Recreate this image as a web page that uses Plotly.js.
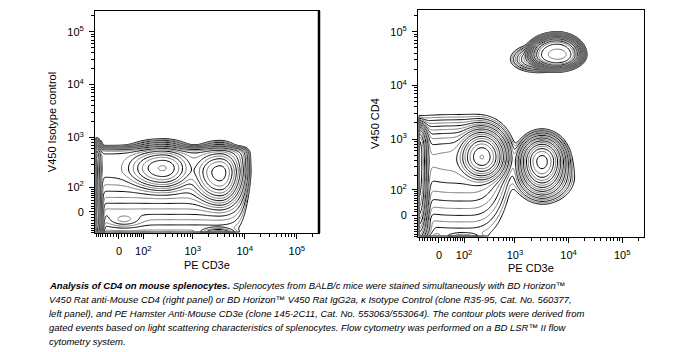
<!DOCTYPE html>
<html><head><meta charset="utf-8">
<script src="https://cdn.plot.ly/plotly-3.0.1.min.js"></script>
<style>html,body{margin:0;padding:0;background:#fff}#chart{width:688px;height:352px}</style>
</head><body><div id="chart"></div>
<script>
// ---- display transform (biexponential-like arcsinh scale) ----
const COFACTOR = 77;
// ---- tick labels ----
const majorTickValues = [0, 100, 1000, 10000, 100000];
const majorTickLabels = ['0', '10<sup>2</sup>', '10<sup>3</sup>', '10<sup>4</sup>', '10<sup>5</sup>'];
// ---- titles ----
const xTitle = 'PE CD3e';
const yTitleLeft = 'V450 Isotype control';
const yTitleRight = 'V450 CD4';
const captionLines = [
  '<b>Analysis of CD4 on mouse splenocytes.</b> Splenocytes from BALB/c mice were stained simultaneously with BD Horizon™',
  'V450 Rat anti-Mouse CD4 (right panel) or BD Horizon™ V450 Rat IgG2a, κ Isotype Control (clone R35-95, Cat. No. 560377,',
  'left panel), and PE Hamster Anti-Mouse CD3e (clone 145-2C11, Cat. No. 553063/553064). The contour plots were derived from',
  'gated events based on light scattering characteristics of splenocytes. Flow cytometry was performed on a BD LSR™ II flow',
  'cytometry system.'
];

// ---- event populations ----
// centres in fluorescence units; spreads in decades of the display scale
// left panel: PE CD3e vs V450 isotype control
const isoPop     = ['CD3- cells', 'CD3+ T cells', 'bulk', 'axis pile-up', 'low lobe', 'bottom pile-up'];
const isoX       = [261, 3353, 381, -98, 18, 3058];
const isoY       = [255, 210, 210, 110, -27, -81];
const isoSpreadL = [0.38, 0.28, 2.0, 0.05, 0.25, 0.22];
const isoSpreadR = [0.30, 0.20, 1.34, 0.07, 0.25, 0.22];
const isoSpreadB = [0.22, 0.30, 0.32, 0.90, 0.10, 0.06];
const isoSpreadT = [0.20, 0.22, 0.42, 0.65, 0.10, 0.06];
const isoShapeX  = [2, 2, 12, 2, 2, 2];
const isoShapeB  = [2, 2, 1.2, 4, 2, 2];
const isoShapeT  = [2, 2, 8, 6, 2, 2];
const isoSharp   = [1, 1, 1, 1, 1, 1];
const isoWeight  = [1.0, 0.8, 0.05, 0.9, 0.003, 0.006];

// right panel: PE CD3e vs V450 CD4
const cd4Pop     = ['CD4+ T cells', 'CD4+ peak', 'CD4 shoulder', 'CD3- cells', 'CD3+CD4- cells', 'bulk', 'CD3+ base', 'axis pile-up', 'bottom lobe', 'corner lobe'];
const cd4X       = [6105, 6400, 2725, 237, 3203, 110, 3434, -79, 95, -47];
const cd4Y       = [37200, 38000, 30600, 459, 381, 381, 185, 381, -84, -47];
const cd4SpreadL = [0.35, 0.12, 0.25, 0.22, 0.20, 1.30, 0.30, 0.05, 0.25, 0.10];
const cd4SpreadR = [0.31, 0.12, 0.30, 0.22, 0.20, 0.55, 0.30, 0.10, 0.25, 0.10];
const cd4SpreadB = [0.18, 0.06, 0.12, 0.22, 0.27, 0.55, 0.25, 0.90, 0.06, 0.12];
const cd4SpreadT = [0.24, 0.06, 0.14, 0.25, 0.22, 0.42, 0.30, 0.48, 0.06, 0.12];
const cd4ShapeX  = [2, 2, 2, 2, 2, 3, 2, 2, 2, 2];
const cd4ShapeB  = [2, 2, 2, 2, 2, 1.5, 2, 3, 2, 2];
const cd4ShapeT  = [2, 2, 2, 2, 2, 2, 2, 4, 2, 2];
const cd4Sharp   = [2, 1, 1, 1, 1, 1, 1, 1, 1, 1];
const cd4Weight  = [16, 6, 0.03, 1.0, 0.8, 0.03, 0.015, 1.0, 0.002, 0.002];

// ---- helpers ----
const LN10 = Math.log(10);
function T(v) { return Math.asinh(v / COFACTOR) / LN10; }

function pops(X, Y, L, R, B, Tp, SX, SB, ST, K, W) {
  return X.map((x, i) => ({u: T(x), v: T(Y[i]), l: L[i], r: R[i], b: B[i], t: Tp[i], px: SX[i], pb: SB[i], pt: ST[i], k: K[i], w: W[i]}));
}

function grid(ps, xr, yr, n) {
  const xs = [], ys = [];
  for (let i = 0; i < n; i++) xs.push(xr[0] + (xr[1] - xr[0]) * i / (n - 1));
  for (let j = 0; j < n; j++) ys.push(yr[0] + (yr[1] - yr[0]) * j / (n - 1));
  const z = [];
  for (let j = 0; j < n; j++) {
    const row = [];
    for (let i = 0; i < n; i++) {
      if (i === 0 || j === 0 || i === n - 1 || j === n - 1) { row.push(-6); continue; }
      let s = 0;
      for (const p of ps) {
        const du = xs[i] - p.u, dv = ys[j] - p.v;
        const dx = du < 0 ? -du / p.l : du / p.r;
        const dy = dv < 0 ? -dv / p.b : dv / p.t;
        const ey = dv < 0 ? p.pb : p.pt;
        s += p.w * Math.exp(-Math.pow(Math.pow(dx, p.px) + Math.pow(dy, ey), p.k));
      }
      row.push(Math.max(-6, Math.log10(s)));
    }
    z.push(row);
  }
  return {x: xs, y: ys, z: z};
}

const xRange = [-0.46, 3.84];
const yRange = [-0.40, 3.81];
const xRange2 = [-0.39, 3.82];
const yRange2 = [-0.41, 3.82];

const gL = grid(pops(isoX, isoY, isoSpreadL, isoSpreadR, isoSpreadB, isoSpreadT, isoShapeX, isoShapeB, isoShapeT, isoSharp, isoWeight), xRange, yRange, 216);
const gR = grid(pops(cd4X, cd4Y, cd4SpreadL, cd4SpreadR, cd4SpreadB, cd4SpreadT, cd4ShapeX, cd4ShapeB, cd4ShapeT, cd4Sharp, cd4Weight), xRange2, yRange2, 216);

function contourPair(g, xa, ya) {
  const base = {type: 'contour', x: g.x, y: g.y, z: g.z, xaxis: xa, yaxis: ya, showscale: false, hoverinfo: 'skip',
    autocontour: false};
  return [
    Object.assign({}, base, {contours: {coloring: 'none', start: -3.4, end: 1.8, size: 0.4}, line: {color: '#000', width: 1, smoothing: 1}}),
    Object.assign({}, base, {contours: {coloring: 'none', start: -3.2, end: 1.8, size: 0.4}, line: {color: '#7a7a7a', width: 1, smoothing: 1}})
  ];
}

const minorVals = [];
for (let k = -9; k <= -1; k++) minorVals.push(T(k * 10));
for (let k = 1; k <= 9; k++) minorVals.push(T(k * 10));
for (let d = 2; d <= 5; d++) for (let k = 2; k <= 9; k++) minorVals.push(T(k * Math.pow(10, d)));

const FONT = 'Liberation Sans, Arial, sans-serif';
function axis(domain, range, anchor, title, standoff, labelGap) {
  return {
    domain: domain, range: range, anchor: anchor, showgrid: false, zeroline: false,
    showline: true, mirror: true, linecolor: '#000', linewidth: 1,
    ticks: 'outside', ticklen: 5, tickwidth: 1, tickcolor: '#000', ticklabelstandoff: labelGap,
    tickmode: 'array', tickvals: majorTickValues.map(T), ticktext: majorTickLabels,
    tickfont: {family: FONT, size: 11, color: '#000'},
    minor: {tickmode: 'array', tickvals: minorVals, ticks: 'outside', ticklen: 3, tickwidth: 1, tickcolor: '#000'},
    title: {text: title, font: {family: FONT, size: 11, color: '#000'}, standoff: standoff}
  };
}

const W = 688, H = 352;
const xTitleAnn = [[207, 265], [531, 268]].map(p => ({
  text: xTitle, xref: 'paper', yref: 'paper', x: p[0] / W, y: 1 - p[1] / H, xanchor: 'center', yanchor: 'middle',
  showarrow: false, font: {family: FONT, size: 11, color: '#000'}
}));
const layout = {
  width: W, height: H, margin: {l: 0, r: 0, t: 0, b: 0}, paper_bgcolor: '#fff', plot_bgcolor: '#fff',
  showlegend: false,
  xaxis: axis([95 / W, 319 / W], xRange, 'y', '', 0, 3),
  yaxis: axis([1 - 233 / H, 1 - 11 / H], yRange, 'x', yTitleLeft, 8, 3),
  xaxis2: axis([418 / W, 644 / W], xRange2, 'y2', '', 0, 3),
  yaxis2: axis([1 - 237 / H, 1 - 10 / H], yRange2, 'x2', yTitleRight, 8, 3),
  shapes: [{type: 'line', xref: 'x domain', yref: 'y domain', x0: 1, x1: 1, y0: 0, y1: 1, line: {color: '#000', width: 2.5}}],
  annotations: xTitleAnn.concat(captionLines.map((t, i) => ({
    text: '<i>' + t + '</i>', xref: 'paper', yref: 'paper', x: 47 / W, y: 1 - (285 + 14 * i) / H,
    xanchor: 'left', yanchor: 'middle', showarrow: false, align: 'left',
    font: {family: FONT, size: 9.5, color: '#000'}
  })))
};

const data = [].concat(contourPair(gL, 'x', 'y'), contourPair(gR, 'x2', 'y2'));
Plotly.newPlot('chart', data, layout, {staticPlot: true, displayModeBar: false});
</script>
</body></html>
